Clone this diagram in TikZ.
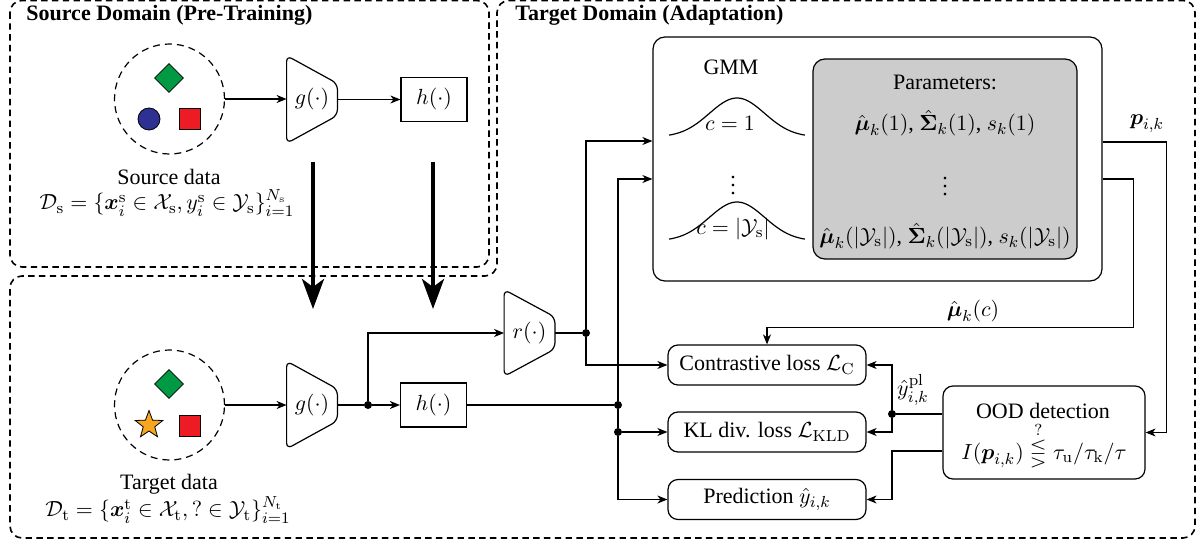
\documentclass[tikz,border=0pt]{standalone}
\usepackage{amsmath,amssymb}
\usepackage[no-math]{fontspec}
\setmainfont{Liberation Serif}
\newfontfamily\tnr{Liberation Serif}
\usetikzlibrary{arrows.meta,shapes.geometric,calc}
\definecolor{dgreen}{RGB}{0,154,68}
\definecolor{dblue}{RGB}{46,49,146}
\definecolor{dred}{RGB}{237,28,36}
\definecolor{dorange}{RGB}{247,166,30}
\definecolor{pgray}{RGB}{204,204,204}
\newcommand\mytrap[1]{\draw[line width=0.6pt, rounded corners=3pt] (#1.north west) -- ($(#1.east)+(0,8pt)$) -- ($(#1.east)+(0,-8pt)$) -- (#1.south west) -- cycle;}
\begin{document}
\begin{tikzpicture}[x=0.5pt,y=-0.5pt, font=\tnr\fontsize{11}{13}\selectfont,
  conn/.style={line width=0.6pt, -{Stealth[length=5pt,width=4pt,inset=1.5pt]}},
  plain/.style={line width=0.6pt},
  lossbox/.style={draw, line width=0.6pt, rounded corners=5pt, minimum width=99pt, minimum height=20pt, inner sep=0pt},
  dot/.style={circle, fill, inner sep=0pt, minimum size=4pt},
  region/.style={dash pattern=on 3.2pt off 2.2pt, line width=0.8pt, rounded corners=6pt},
  bigarrow/.style={line width=2pt, -{Stealth[length=15pt,width=11pt,inset=4pt]}},
  trapnode/.style={minimum width=25pt, minimum height=43.5pt, inner sep=0pt},
  hbox/.style={draw, line width=0.6pt, minimum width=33pt, minimum height=22pt, inner sep=0pt},
  datacirc/.style={circle, draw, dash pattern=on 3.5pt off 2.5pt, line width=0.6pt, minimum size=55pt, inner sep=0pt},
  titletext/.style={font=\tnr\fontsize{11}{13}\selectfont\bfseries, anchor=west, inner sep=0pt}
]
\useasboundingbox (0,0) rectangle (1199,546);

% regions
\draw[region] (10,0.5) rectangle (489,267);
\draw[region] (497,0.5) -- (1195,0.5) -- (1195,538) -- (10,538) -- (10,276) -- (497,276) -- cycle;
\node[titletext] (ts) at (26,15) {Source Domain (Pre-Training)};
\node[titletext] (tt) at (515,15) {Target Domain (Adaptation)};

% source domain
\node[datacirc] (c1) at (169.5,99) {};
\node[diamond, draw, fill=dgreen, minimum size=14.5pt, inner sep=0pt, line width=0.4pt] (s1d) at (169,78) {};
\node[circle, draw, fill=dblue, minimum size=11pt, inner sep=0pt, line width=0.4pt] (s1c) at (149,119) {};
\node[draw, fill=dred, minimum size=10.5pt, inner sep=0pt, line width=0.4pt] (s1s) at (189.5,118.5) {};
\node (sdl) at (169,177) {Source data};
\node (sdf) at (167,203) {$\mathcal{D}_\mathrm{s}=\{\boldsymbol{x}_i^\mathrm{s}\in\mathcal{X}_\mathrm{s}, y_i^\mathrm{s}\in\mathcal{Y}_\mathrm{s}\}_{i=1}^{N_\mathrm{s}}$};
\node[trapnode] (g1) at (312,99.5) {$g(\cdot)$};
\mytrap{g1}
\node[hbox] (h1) at (434,99.5) {$h(\cdot)$};
\draw[conn] (c1.east) -- (c1.east -| g1.west);
\draw[conn] (g1.east) -- (h1.west);

% transfer arrows
\coordinate (a1s) at (313,162);
\coordinate (a1e) at (313,309);
\coordinate (a2s) at (433,162);
\coordinate (a2e) at (433,309);
\draw[bigarrow] (a1s) -- (a1e);
\draw[bigarrow] (a2s) -- (a2e);

% target domain data
\node[datacirc] (c2) at (169.5,405) {};
\node[diamond, draw, fill=dgreen, minimum size=14.5pt, inner sep=0pt, line width=0.4pt] (s2d) at (169,384) {};
\node[star, star points=5, star point ratio=2.4, draw, fill=dorange, minimum size=14.5pt, inner sep=0pt, line width=0.4pt] (s2s) at (149,425) {};
\node[draw, fill=dred, minimum size=10.5pt, inner sep=0pt, line width=0.4pt] (s2r) at (189.5,425.5) {};
\node (tdl) at (169,484) {Target data};
\node (tdf) at (168,510) {$\mathcal{D}_\mathrm{t}=\{\boldsymbol{x}_i^\mathrm{t}\in\mathcal{X}_\mathrm{t}, ?\in\mathcal{Y}_\mathrm{t}\}_{i=1}^{N_\mathrm{t}}$};
\node[trapnode] (g2) at (312,405) {$g(\cdot)$};
\mytrap{g2}
\node[hbox] (h2) at (433.5,405) {$h(\cdot)$};
\node[trapnode, minimum height=43pt] (r) at (529.5,333) {$r(\cdot)$};
\mytrap{r}

% GMM
\node[draw, rounded corners=6pt, line width=0.6pt, minimum width=224.5pt, minimum height=122pt] (gmm) at (877.5,159) {};
\node[draw, fill=pgray, rounded corners=6pt, line width=0.6pt, minimum width=132pt, minimum height=100pt] (par) at (945,159) {};
\node (gmmt) at (731,67) {GMM};
\draw[plain] plot[domain=669:805, samples=60, smooth] (\x,{137-39*exp(-(((\x-737)/39)*((\x-737)/39)))});
\draw[plain] plot[domain=669:805, samples=60, smooth] (\x,{241-39*exp(-(((\x-737)/39)*((\x-737)/39)))});
\node (cone) at (730,123) {$c=1$};
\node (vd1) at (733,180) {$\vdots$};
\node (ctwo) at (733,229) {$c=|\mathcal{Y}_\mathrm{s}|$};
\node (pt) at (945,82) {Parameters:};
\node (pone) at (945,123) {$\hat{\boldsymbol{\mu}}_k(1)$, $\hat{\boldsymbol{\Sigma}}_k(1)$, $s_k(1)$};
\node (vd2) at (945,181) {$\vdots$};
\node (ptwo) at (945,236) {$\hat{\boldsymbol{\mu}}_k(|\mathcal{Y}_\mathrm{s}|)$, $\hat{\boldsymbol{\Sigma}}_k(|\mathcal{Y}_\mathrm{s}|)$, $s_k(|\mathcal{Y}_\mathrm{s}|)$};

% loss boxes
\node[lossbox] (cl) at (767,365) {Contrastive loss $\mathcal{L}_\mathrm{C}$};
\node[lossbox] (kl) at (767,432) {KL div. loss $\mathcal{L}_\mathrm{KLD}$};
\node[lossbox] (pred) at (767,499.5) {Prediction $\hat{y}_{i,k}$};
\node[lossbox, minimum width=101pt, minimum height=46.5pt] (ood) at (1044,432.5) {};
\node (oodt) at (1043,411) {OOD detection};
\node (oodf) at (1044,445) {$I(\boldsymbol{p}_{i,k}) \overset{?}{\lesseqgtr} \tau_\mathrm{u}/\tau_\mathrm{k}/\tau$};

% labels
\node (plab) at (1147,124) {$\boldsymbol{p}_{i,k}$};
\node (mulab) at (973,311) {$\hat{\boldsymbol{\mu}}_k(c)$};
\node (ylab) at (913,390) {$\hat{y}_{i,k}^{\mathrm{pl}}$};

% dots
\node[dot] (dg) at (368,405) {};
\node[dot] (dr) at (586,333) {};
\node[dot] (dh) at (618,405) {};
\node[dot] (dk) at (618,432) {};
\node[dot] (dy) at (892,414) {};
\coordinate (cp) at (892,451);

% connectors
\draw[conn] (c2.east) -- (g2.west);
\draw[plain] (g2.east) -- (dg);
\draw[conn] (dg) -- (h2.west);
\draw[conn] (dg) |- (r.west);
\draw[plain] (r.east) -- (dr);
\draw[conn] (dr) |- ([yshift=9pt]gmm.west);
\draw[conn] (dr) |- (cl.west);
\draw[plain] (h2.east) -- (dh);
\draw[conn] (dh) |- ([yshift=-10pt]gmm.west);
\draw[plain] (dh) -- (dk);
\draw[conn] (dk) -- (kl.west);
\draw[conn] (dk) |- (pred.west);
\draw[conn] ([yshift=8.5pt]gmm.east) -- ++(32pt,0) |- (ood.east);
\draw[conn] ([yshift=-10pt]gmm.east) -- ++(15.5pt,0) |- ($(cl.north)+(0,8.5pt)$) -- (cl.north);
\draw[plain] ([yshift=9.25pt]ood.west) -- (dy);
\draw[conn] (dy) |- (cl.east);
\draw[conn] (dy) |- (kl.east);
\draw[conn] ([yshift=-9.25pt]ood.west) -- (cp) |- (pred.east);
\end{tikzpicture}
\end{document}
